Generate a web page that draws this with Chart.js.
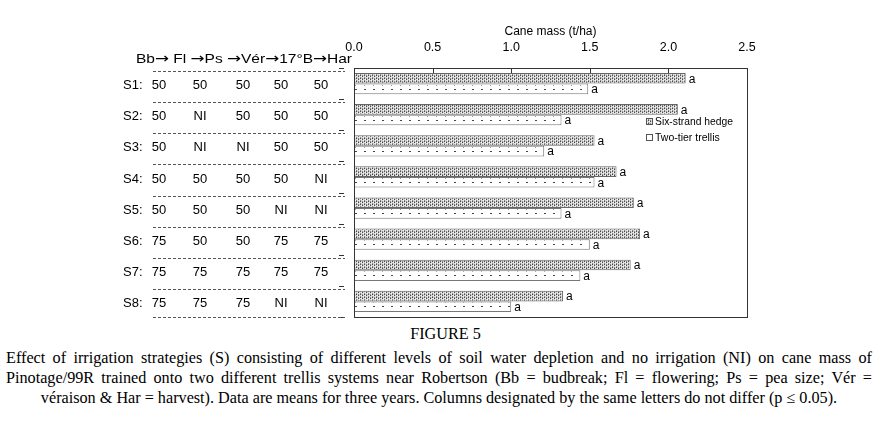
<!DOCTYPE html>
<html>
<head>
<meta charset="utf-8">
<script src="https://cdn.jsdelivr.net/npm/chart.js@4.4.0/dist/chart.umd.min.js"></script>
<style>
  body { margin: 0; background: #fff; width: 877px; height: 423px; overflow: hidden; }
  #wrap { position: relative; width: 877px; height: 322px; }
  .cap { font-family: "Liberation Serif", "Times New Roman", serif; font-size: 16.2px; color: #000; line-height: 20px; white-space: nowrap; }
  .fig { text-align: center; padding-left: 14px; margin-top: 2px; }
  .lines { margin-top: 4px; padding: 0 5px 0 6px; }
  .just { text-align: justify; text-align-last: justify; }
  .mid { text-align: center; }
</style>
</head>
<body>
<div id="wrap"><canvas id="chart" width="877" height="322"></canvas></div>
<div class="cap fig">FIGURE 5</div>
<div class="cap lines">
  <div class="just">Effect of irrigation strategies (S) consisting of different levels of soil water depletion and no irrigation (NI) on cane mass of</div>
  <div class="just">Pinotage/99R trained onto two different trellis systems near Robertson (Bb = budbreak; Fl = flowering; Ps = pea size; Vér =</div>
  <div class="mid">véraison &amp; Har = harvest). Data are means for three years. Columns designated by the same letters do not differ (p ≤ 0.05).</div>
</div>
<script>
// 灌漑戦略（S1〜S8）
const strategies = ['S1', 'S2', 'S3', 'S4', 'S5', 'S6', 'S7', 'S8'];
// 左の表の見出し（ステージ名）と中身（各ステージの土壌水分減少レベル）
const stages = ['Bb', ' Fl ', 'Ps ', 'Vér', '17°B', 'Har'];
const depletion = [
    ['50', '50', '50', '50', '50'],
    ['50', 'NI', '50', '50', '50'],
    ['50', 'NI', 'NI', '50', '50'],
    ['50', '50', '50', '50', 'NI'],
    ['50', '50', '50', 'NI', 'NI'],
    ['75', '50', '50', '75', '75'],
    ['75', '75', '75', '75', '75'],
    ['75', '75', '75', 'NI', 'NI']
];
// 杖の重さ (t/ha)
const hedgeValues = [2.11, 2.06, 1.53, 1.67, 1.78, 1.82, 1.76, 1.33];
const trellisValues = [1.49, 1.32, 1.21, 1.53, 1.32, 1.50, 1.44, 1.00];
const hedgeLetters = ['a', 'a', 'a', 'a', 'a', 'a', 'a', 'a'];
const trellisLetters = ['a', 'a', 'a', 'a', 'a', 'a', 'a', 'a'];
const xTicks = [0, 0.5, 1.0, 1.5, 2.0, 2.5];

const SANS = '"Liberation Sans", Arial, sans-serif';

// 点々の塗り（Six-strand hedge）
function hedgePattern() {
    const c = document.createElement('canvas');
    c.width = 4; c.height = 3;
    const g = c.getContext('2d');
    g.fillStyle = '#d6d6d6';
    g.fillRect(0, 0, 4, 3);
    g.fillStyle = '#4a4a4a';
    g.fillRect(0, 0, 1, 1); g.fillRect(2, 1, 1, 1);
    g.fillStyle = '#8a8a8a';
    g.fillRect(0, 2, 1, 1); g.fillRect(2, 0, 1, 1);
    g.fillStyle = '#f4f4f4';
    g.fillRect(1, 1, 1, 1); g.fillRect(3, 2, 1, 1);
    return g.createPattern(c, 'repeat');
}
const hedgeFill = hedgePattern();

// まばらな点（Two-tier trellis）: 棒の位置に合わせてずらす
function trellisFill(ctx) {
    const c = document.createElement('canvas');
    c.width = 9; c.height = 10;
    const g = c.getContext('2d');
    g.fillStyle = '#ffffff';
    g.fillRect(0, 0, 9, 10);
    g.fillStyle = '#444';
    g.fillRect(4, 5, 2, 1);
    g.fillStyle = '#999';
    g.fillRect(4, 1, 1, 1);
    const pat = g.createPattern(c, 'repeat');
    const y = ctx.chart.scales && ctx.chart.scales.y;
    if (y && ctx.dataIndex !== undefined && pat.setTransform) {
        const top = y.getPixelForValue(ctx.dataIndex);
        pat.setTransform(new DOMMatrix([1, 0, 0, 1, 0, Math.round(top)]));
    }
    return pat;
}

// 見出し：文字は Liberation Sans、矢印は DejaVu Sans で描いて幅を合わせる
function drawHeader(ctx, x0, yc, width) {
    const pieces = [];
    stages.forEach((s, i) => {
        pieces.push({ t: s, f: '13px ' + SANS });
        if (i < stages.length - 1) pieces.push({ t: '\u2192', f: '14px "DejaVu Sans", sans-serif' });
    });
    let total = 0;
    pieces.forEach(p => { ctx.font = p.f; p.w = ctx.measureText(p.t).width; total += p.w; });
    const k = width / total;
    ctx.save();
    ctx.translate(x0, yc);
    ctx.scale(k, 1);
    ctx.textAlign = 'left';
    let cx = 0;
    pieces.forEach(p => { ctx.font = p.f; ctx.fillText(p.t, cx, 0); cx += p.w; });
    ctx.restore();
}

// 枠・目盛り・表・凡例・文字 "a"
const figurePlugin = {
    id: 'figure',
    afterDraw(chart) {
        const { ctx, chartArea: a, scales: { x, y } } = chart;
        ctx.save();
        // 枠
        ctx.strokeStyle = '#333';
        ctx.lineWidth = 1;
        ctx.strokeRect(Math.round(a.left) + 0.5, Math.round(a.top) + 0.5, Math.round(a.right - a.left), Math.round(a.bottom - a.top));
        // x軸：内向きの目盛り
        xTicks.forEach(v => {
            const px = Math.round(x.getPixelForValue(v)) + 0.5;
            ctx.beginPath();
            ctx.moveTo(px, a.top);
            ctx.lineTo(px, a.top + 5);
            ctx.stroke();
        });
        // y軸：カテゴリの境目に短い目盛り（枠の少し左）
        const band = y.getPixelForValue(1) - y.getPixelForValue(0);
        for (let i = 0; i <= strategies.length; i++) {
            const yy = Math.round(y.getPixelForValue(0) - band / 2 + i * band) + 0.5;
            ctx.beginPath();
            ctx.moveTo(a.left - 15, yy);
            ctx.lineTo(a.left - 10, yy);
            ctx.stroke();
        }

        // 文字 "a"
        ctx.fillStyle = '#000';
        ctx.font = '12px ' + SANS;
        ctx.textBaseline = 'middle';
        ctx.textAlign = 'left';
        const letters = [hedgeLetters, trellisLetters];
        chart.data.datasets.forEach((ds, di) => {
            chart.getDatasetMeta(di).data.forEach((bar, i) => {
                ctx.fillText(letters[di][i], bar.x + 3, bar.y + 1);
            });
        });

        // 左の表
        drawHeader(ctx, 136, 59, 216);
        ctx.font = '13px ' + SANS;
        const cols = [159, 200, 243, 281, 321];
        strategies.forEach((s, i) => {
            const yc = y.getPixelForValue(i) + 2;
            ctx.textAlign = 'left';
            ctx.fillText(s + ':', 123, yc);
            ctx.textAlign = 'center';
            depletion[i].forEach((d, j) => ctx.fillText(d, cols[j], yc));
        });
        ctx.strokeStyle = '#555';
        ctx.setLineDash([3, 2]);
        for (let i = 0; i <= strategies.length; i++) {
            const yy = Math.round(y.getPixelForValue(0) - band / 2 + i * band + (i < strategies.length ? 3 : 0)) + 0.5;
            ctx.beginPath();
            ctx.moveTo(153, yy);
            ctx.lineTo(345, yy);
            ctx.stroke();
        }
        ctx.setLineDash([]);

        // 凡例
        ctx.font = '10.5px ' + SANS;
        ctx.textAlign = 'left';
        const fills = [hedgeFill, '#fff'];
        chart.data.datasets.forEach((ds, di) => {
            const ly = a.top + 54 + di * 16;
            ctx.fillStyle = fills[di];
            ctx.fillRect(647, ly - 3, 6, 6);
            ctx.strokeStyle = '#555';
            ctx.strokeRect(646.5, ly - 3.5, 6, 6);
            ctx.fillStyle = '#000';
            ctx.fillText(ds.label, 655, ly + 0.5, 78);
        });
        ctx.restore();
    }
};

new Chart(document.getElementById('chart'), {
    type: 'bar',
    data: {
        labels: strategies,
        datasets: [
            {
                label: 'Six-strand hedge',
                data: hedgeValues,
                backgroundColor: hedgeFill,
                borderColor: '#666',
                borderWidth: 1
            },
            {
                label: 'Two-tier trellis',
                data: trellisValues,
                backgroundColor: trellisFill,
                borderColor: '#777',
                borderWidth: 1
            }
        ]
    },
    options: {
        indexAxis: 'y',
        responsive: false,
        animation: false,
        events: [],
        layout: { padding: { left: 344, right: 130, top: 0, bottom: 5 } },
        datasets: { bar: { categoryPercentage: 0.68, barPercentage: 1.0 } },
        plugins: { legend: { display: false }, tooltip: { enabled: false } },
        scales: {
            x: {
                position: 'top',
                min: 0,
                max: 2.5,
                afterBuildTicks: scale => { scale.ticks = xTicks.map(v => ({ value: v })); },
                afterFit: scale => { scale.height = 68; },
                grid: { drawOnChartArea: false, drawTicks: false },
                border: { display: false },
                ticks: {
                    padding: 13,
                    color: '#000',
                    font: { family: SANS, size: 12.5 },
                    callback: v => Number(v).toFixed(1)
                },
                title: {
                    display: true,
                    text: 'Cane mass (t/ha)',
                    color: '#000',
                    font: { family: SANS, size: 12 },
                    padding: { top: 24, bottom: 0 }
                }
            },
            y: {
                afterFit: scale => { scale.width = 10; },
                grid: { display: false },
                border: { display: false },
                ticks: { display: false }
            }
        }
    },
    plugins: [figurePlugin]
});
</script>
</body>
</html>
